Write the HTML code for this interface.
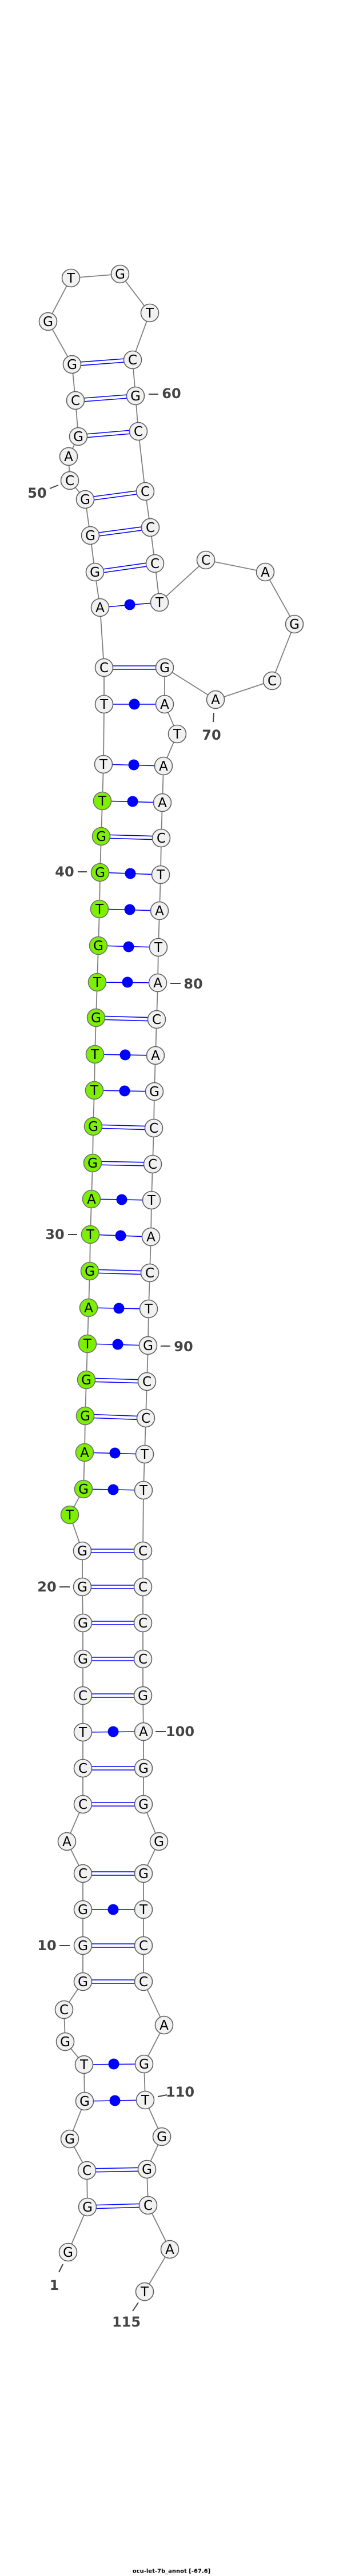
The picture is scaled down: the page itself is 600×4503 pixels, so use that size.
<!DOCTYPE html>
<html><head><meta charset="utf-8"><style>
html,body{margin:0;padding:0;background:#fff;}
svg{display:block;}
.n{fill:#f1f1f1;stroke:#606060;stroke-width:1.6;}
.g{fill:#7cf000;stroke:#707070;stroke-width:1.6;}
.t{font-family:"DejaVu Sans","Liberation Sans",sans-serif;font-size:23px;text-anchor:middle;dominant-baseline:central;fill:#000;}
.l{font-family:"DejaVu Sans","Liberation Sans",sans-serif;font-size:24px;font-weight:bold;text-anchor:middle;dominant-baseline:central;fill:#444;}
.k{stroke:#444;stroke-width:2;}
.p{stroke:#0000ff;stroke-width:1.6;}
</style></head><body>
<svg width="600" height="4503" viewBox="0 0 600 4503" xmlns="http://www.w3.org/2000/svg">
<polyline fill="none" stroke="#808080" stroke-width="1.8" points="119,3937 153,3858 152,3794 122,3739 148,3673 147,3609 114,3569 112,3513 145,3464 145,3401 145,3338 145,3275 117,3219 145,3154 145,3091 145,3028 145,2964 145,2900 145,2837 144,2774 144,2711 122,2648 146,2603 148,2539 149,2475 151,2412 153,2349 155,2286 157,2222 158,2158 160,2096 162,2033 163,1969 165,1906 166,1843 168,1779 170,1717 172,1653 174,1589 175,1525 177,1462 179,1400 181,1336 182,1231 182,1167 175,1062 166,1000 158,936 149,873 122,840 120,798 137,763 132,700 126,637 84,562 124,486 210,479 262,547 232,629 237,692 242,754 254,859 263,922 271,985 279,1053 360,979 464,1000 515,1091 476,1190 377,1223 288,1167 288,1231 310,1283 286,1339 284,1403 282,1465 281,1529 279,1592 277,1656 276,1718 274,1782 272,1845 270,1908 269,1972 267,2035 265,2098 264,2162 262,2225 260,2288 259,2352 257,2415 255,2479 253,2542 251,2605 250,2711 250,2774 250,2837 250,2900 250,2964 251,3027 251,3091 251,3154 278,3219 251,3275 251,3338 251,3401 251,3464 287,3540 252,3608 254,3671 283,3735 257,3792 259,3855 297,3932 253,4006"/>
<g class="p">
<!-- double pairs -->
<line x1="153" y1="3855" x2="259" y2="3852"/><line x1="153" y1="3861" x2="259" y2="3858"/>
<line x1="152" y1="3791" x2="257" y2="3789"/><line x1="152" y1="3797" x2="257" y2="3795"/>
<line x1="145" y1="3461" x2="251" y2="3461"/><line x1="145" y1="3467" x2="251" y2="3467"/>
<line x1="145" y1="3398" x2="251" y2="3398"/><line x1="145" y1="3404" x2="251" y2="3404"/>
<line x1="145" y1="3272" x2="251" y2="3272"/><line x1="145" y1="3278" x2="251" y2="3278"/>
<line x1="145" y1="3151" x2="251" y2="3151"/><line x1="145" y1="3157" x2="251" y2="3157"/>
<line x1="145" y1="3088" x2="251" y2="3088"/><line x1="145" y1="3094" x2="251" y2="3094"/>
<line x1="145" y1="2961" x2="250" y2="2961"/><line x1="145" y1="2967" x2="250" y2="2967"/>
<line x1="145" y1="2897" x2="250" y2="2897"/><line x1="145" y1="2903" x2="250" y2="2903"/>
<line x1="145" y1="2834" x2="250" y2="2834"/><line x1="145" y1="2840" x2="250" y2="2840"/>
<line x1="144" y1="2771" x2="250" y2="2771"/><line x1="144" y1="2777" x2="250" y2="2777"/>
<line x1="144" y1="2708" x2="250" y2="2708"/><line x1="144" y1="2714" x2="250" y2="2714"/>
<line x1="149" y1="2472" x2="255" y2="2476"/><line x1="149" y1="2478" x2="255" y2="2482"/>
<line x1="151" y1="2409" x2="257" y2="2412"/><line x1="151" y1="2415" x2="257" y2="2418"/>
<line x1="157" y1="2219" x2="262" y2="2222"/><line x1="157" y1="2225" x2="262" y2="2228"/>
<line x1="162" y1="2030" x2="267" y2="2032"/><line x1="162" y1="2036" x2="267" y2="2038"/>
<line x1="163" y1="1966" x2="269" y2="1969"/><line x1="163" y1="1972" x2="269" y2="1975"/>
<line x1="168" y1="1776" x2="274" y2="1779"/><line x1="168" y1="1782" x2="274" y2="1785"/>
<line x1="177" y1="1459" x2="282" y2="1462"/><line x1="177" y1="1465" x2="282" y2="1468"/>
<line x1="182" y1="1164" x2="288" y2="1164"/><line x1="182" y1="1170" x2="288" y2="1170"/>
<line x1="166" y1="997" x2="271" y2="982"/><line x1="166" y1="1003" x2="271" y2="988"/>
<line x1="158" y1="933" x2="263" y2="919"/><line x1="158" y1="939" x2="263" y2="925"/>
<line x1="149" y1="870" x2="254" y2="856"/><line x1="149" y1="876" x2="254" y2="862"/>
<line x1="137" y1="760" x2="242" y2="751"/><line x1="137" y1="766" x2="242" y2="757"/>
<line x1="132" y1="697" x2="237" y2="689"/><line x1="132" y1="703" x2="237" y2="695"/>
<line x1="126" y1="634" x2="232" y2="626"/><line x1="126" y1="640" x2="232" y2="632"/>
<!-- dot pairs -->
<line x1="148" y1="3673" x2="254" y2="3671"/>
<line x1="147" y1="3609" x2="252" y2="3608"/>
<line x1="145" y1="3338" x2="251" y2="3338"/>
<line x1="145" y1="3028" x2="251" y2="3027"/>
<line x1="146" y1="2603" x2="251" y2="2605"/>
<line x1="148" y1="2539" x2="253" y2="2542"/>
<line x1="153" y1="2349" x2="259" y2="2352"/>
<line x1="155" y1="2286" x2="260" y2="2288"/>
<line x1="158" y1="2158" x2="264" y2="2162"/>
<line x1="160" y1="2096" x2="265" y2="2098"/>
<line x1="165" y1="1906" x2="270" y2="1908"/>
<line x1="166" y1="1843" x2="272" y2="1845"/>
<line x1="170" y1="1717" x2="276" y2="1718"/>
<line x1="172" y1="1653" x2="277" y2="1656"/>
<line x1="174" y1="1589" x2="279" y2="1592"/>
<line x1="175" y1="1525" x2="281" y2="1529"/>
<line x1="179" y1="1400" x2="284" y2="1403"/>
<line x1="181" y1="1336" x2="286" y2="1339"/>
<line x1="182" y1="1231" x2="288" y2="1231"/>
<line x1="175" y1="1062" x2="279" y2="1053"/>
</g>
<g fill="#0000ff">
<circle cx="201" cy="3672" r="9.5"/><circle cx="199" cy="3608" r="9.5"/><circle cx="198" cy="3338" r="9.5"/><circle cx="198" cy="3027" r="9.5"/>
<circle cx="198" cy="2604" r="9.5"/><circle cx="201" cy="2540" r="9.5"/><circle cx="206" cy="2350" r="9.5"/><circle cx="208" cy="2287" r="9.5"/>
<circle cx="211" cy="2160" r="9.5"/><circle cx="213" cy="2097" r="9.5"/><circle cx="218" cy="1907" r="9.5"/><circle cx="219" cy="1844" r="9.5"/>
<circle cx="223" cy="1717" r="9.5"/><circle cx="225" cy="1655" r="9.5"/><circle cx="227" cy="1590" r="9.5"/><circle cx="228" cy="1527" r="9.5"/>
<circle cx="232" cy="1401" r="9.5"/><circle cx="234" cy="1337" r="9.5"/><circle cx="235" cy="1231" r="9.5"/><circle cx="227" cy="1057" r="9.5"/>
</g>
<g>
<circle class="n" cx="119" cy="3937" r="15.5"/><text class="t" x="119" y="3938">G</text>
<circle class="n" cx="153" cy="3858" r="15.5"/><text class="t" x="153" y="3859">G</text>
<circle class="n" cx="152" cy="3794" r="15.5"/><text class="t" x="152" y="3795">C</text>
<circle class="n" cx="122" cy="3739" r="15.5"/><text class="t" x="122" y="3740">G</text>
<circle class="n" cx="148" cy="3673" r="15.5"/><text class="t" x="148" y="3674">G</text>
<circle class="n" cx="147" cy="3609" r="15.5"/><text class="t" x="147" y="3610">T</text>
<circle class="n" cx="114" cy="3569" r="15.5"/><text class="t" x="114" y="3570">G</text>
<circle class="n" cx="112" cy="3513" r="15.5"/><text class="t" x="112" y="3514">C</text>
<circle class="n" cx="145" cy="3464" r="15.5"/><text class="t" x="145" y="3465">G</text>
<circle class="n" cx="145" cy="3401" r="15.5"/><text class="t" x="145" y="3402">G</text>
<circle class="n" cx="145" cy="3338" r="15.5"/><text class="t" x="145" y="3339">G</text>
<circle class="n" cx="145" cy="3275" r="15.5"/><text class="t" x="145" y="3276">C</text>
<circle class="n" cx="117" cy="3219" r="15.5"/><text class="t" x="117" y="3220">A</text>
<circle class="n" cx="145" cy="3154" r="15.5"/><text class="t" x="145" y="3155">C</text>
<circle class="n" cx="145" cy="3091" r="15.5"/><text class="t" x="145" y="3092">C</text>
<circle class="n" cx="145" cy="3028" r="15.5"/><text class="t" x="145" y="3029">T</text>
<circle class="n" cx="145" cy="2964" r="15.5"/><text class="t" x="145" y="2965">C</text>
<circle class="n" cx="145" cy="2900" r="15.5"/><text class="t" x="145" y="2901">G</text>
<circle class="n" cx="145" cy="2837" r="15.5"/><text class="t" x="145" y="2838">G</text>
<circle class="n" cx="144" cy="2774" r="15.5"/><text class="t" x="144" y="2775">G</text>
<circle class="n" cx="144" cy="2711" r="15.5"/><text class="t" x="144" y="2712">G</text>
<circle class="g" cx="122" cy="2648" r="15.5"/><text class="t" x="122" y="2649">T</text>
<circle class="g" cx="146" cy="2603" r="15.5"/><text class="t" x="146" y="2604">G</text>
<circle class="g" cx="148" cy="2539" r="15.5"/><text class="t" x="148" y="2540">A</text>
<circle class="g" cx="149" cy="2475" r="15.5"/><text class="t" x="149" y="2476">G</text>
<circle class="g" cx="151" cy="2412" r="15.5"/><text class="t" x="151" y="2413">G</text>
<circle class="g" cx="153" cy="2349" r="15.5"/><text class="t" x="153" y="2350">T</text>
<circle class="g" cx="155" cy="2286" r="15.5"/><text class="t" x="155" y="2287">A</text>
<circle class="g" cx="157" cy="2222" r="15.5"/><text class="t" x="157" y="2223">G</text>
<circle class="g" cx="158" cy="2158" r="15.5"/><text class="t" x="158" y="2159">T</text>
<circle class="g" cx="160" cy="2096" r="15.5"/><text class="t" x="160" y="2097">A</text>
<circle class="g" cx="162" cy="2033" r="15.5"/><text class="t" x="162" y="2034">G</text>
<circle class="g" cx="163" cy="1969" r="15.5"/><text class="t" x="163" y="1970">G</text>
<circle class="g" cx="165" cy="1906" r="15.5"/><text class="t" x="165" y="1907">T</text>
<circle class="g" cx="166" cy="1843" r="15.5"/><text class="t" x="166" y="1844">T</text>
<circle class="g" cx="168" cy="1779" r="15.5"/><text class="t" x="168" y="1780">G</text>
<circle class="g" cx="170" cy="1717" r="15.5"/><text class="t" x="170" y="1718">T</text>
<circle class="g" cx="172" cy="1653" r="15.5"/><text class="t" x="172" y="1654">G</text>
<circle class="g" cx="174" cy="1589" r="15.5"/><text class="t" x="174" y="1590">T</text>
<circle class="g" cx="175" cy="1525" r="15.5"/><text class="t" x="175" y="1526">G</text>
<circle class="g" cx="177" cy="1462" r="15.5"/><text class="t" x="177" y="1463">G</text>
<circle class="g" cx="179" cy="1400" r="15.5"/><text class="t" x="179" y="1401">T</text>
<circle class="n" cx="181" cy="1336" r="15.5"/><text class="t" x="181" y="1337">T</text>
<circle class="n" cx="182" cy="1231" r="15.5"/><text class="t" x="182" y="1232">T</text>
<circle class="n" cx="182" cy="1167" r="15.5"/><text class="t" x="182" y="1168">C</text>
<circle class="n" cx="175" cy="1062" r="15.5"/><text class="t" x="175" y="1063">A</text>
<circle class="n" cx="166" cy="1000" r="15.5"/><text class="t" x="166" y="1001">G</text>
<circle class="n" cx="158" cy="936" r="15.5"/><text class="t" x="158" y="937">G</text>
<circle class="n" cx="149" cy="873" r="15.5"/><text class="t" x="149" y="874">G</text>
<circle class="n" cx="122" cy="840" r="15.5"/><text class="t" x="122" y="841">C</text>
<circle class="n" cx="120" cy="798" r="15.5"/><text class="t" x="120" y="799">A</text>
<circle class="n" cx="137" cy="763" r="15.5"/><text class="t" x="137" y="764">G</text>
<circle class="n" cx="132" cy="700" r="15.5"/><text class="t" x="132" y="701">C</text>
<circle class="n" cx="126" cy="637" r="15.5"/><text class="t" x="126" y="638">G</text>
<circle class="n" cx="84" cy="562" r="15.5"/><text class="t" x="84" y="563">G</text>
<circle class="n" cx="124" cy="486" r="15.5"/><text class="t" x="124" y="487">T</text>
<circle class="n" cx="210" cy="479" r="15.5"/><text class="t" x="210" y="480">G</text>
<circle class="n" cx="262" cy="547" r="15.5"/><text class="t" x="262" y="548">T</text>
<circle class="n" cx="232" cy="629" r="15.5"/><text class="t" x="232" y="630">C</text>
<circle class="n" cx="237" cy="692" r="15.5"/><text class="t" x="237" y="693">G</text>
<circle class="n" cx="242" cy="754" r="15.5"/><text class="t" x="242" y="755">C</text>
<circle class="n" cx="254" cy="859" r="15.5"/><text class="t" x="254" y="860">C</text>
<circle class="n" cx="263" cy="922" r="15.5"/><text class="t" x="263" y="923">C</text>
<circle class="n" cx="271" cy="985" r="15.5"/><text class="t" x="271" y="986">C</text>
<circle class="n" cx="279" cy="1053" r="15.5"/><text class="t" x="279" y="1054">T</text>
<circle class="n" cx="360" cy="979" r="15.5"/><text class="t" x="360" y="980">C</text>
<circle class="n" cx="464" cy="1000" r="15.5"/><text class="t" x="464" y="1001">A</text>
<circle class="n" cx="515" cy="1091" r="15.5"/><text class="t" x="515" y="1092">G</text>
<circle class="n" cx="476" cy="1190" r="15.5"/><text class="t" x="476" y="1191">C</text>
<circle class="n" cx="377" cy="1223" r="15.5"/><text class="t" x="377" y="1224">A</text>
<circle class="n" cx="288" cy="1167" r="15.5"/><text class="t" x="288" y="1168">G</text>
<circle class="n" cx="288" cy="1231" r="15.5"/><text class="t" x="288" y="1232">A</text>
<circle class="n" cx="310" cy="1283" r="15.5"/><text class="t" x="310" y="1284">T</text>
<circle class="n" cx="286" cy="1339" r="15.5"/><text class="t" x="286" y="1340">A</text>
<circle class="n" cx="284" cy="1403" r="15.5"/><text class="t" x="284" y="1404">A</text>
<circle class="n" cx="282" cy="1465" r="15.5"/><text class="t" x="282" y="1466">C</text>
<circle class="n" cx="281" cy="1529" r="15.5"/><text class="t" x="281" y="1530">T</text>
<circle class="n" cx="279" cy="1592" r="15.5"/><text class="t" x="279" y="1593">A</text>
<circle class="n" cx="277" cy="1656" r="15.5"/><text class="t" x="277" y="1657">T</text>
<circle class="n" cx="276" cy="1718" r="15.5"/><text class="t" x="276" y="1719">A</text>
<circle class="n" cx="274" cy="1782" r="15.5"/><text class="t" x="274" y="1783">C</text>
<circle class="n" cx="272" cy="1845" r="15.5"/><text class="t" x="272" y="1846">A</text>
<circle class="n" cx="270" cy="1908" r="15.5"/><text class="t" x="270" y="1909">G</text>
<circle class="n" cx="269" cy="1972" r="15.5"/><text class="t" x="269" y="1973">C</text>
<circle class="n" cx="267" cy="2035" r="15.5"/><text class="t" x="267" y="2036">C</text>
<circle class="n" cx="265" cy="2098" r="15.5"/><text class="t" x="265" y="2099">T</text>
<circle class="n" cx="264" cy="2162" r="15.5"/><text class="t" x="264" y="2163">A</text>
<circle class="n" cx="262" cy="2225" r="15.5"/><text class="t" x="262" y="2226">C</text>
<circle class="n" cx="260" cy="2288" r="15.5"/><text class="t" x="260" y="2289">T</text>
<circle class="n" cx="259" cy="2352" r="15.5"/><text class="t" x="259" y="2353">G</text>
<circle class="n" cx="257" cy="2415" r="15.5"/><text class="t" x="257" y="2416">C</text>
<circle class="n" cx="255" cy="2479" r="15.5"/><text class="t" x="255" y="2480">C</text>
<circle class="n" cx="253" cy="2542" r="15.5"/><text class="t" x="253" y="2543">T</text>
<circle class="n" cx="251" cy="2605" r="15.5"/><text class="t" x="251" y="2606">T</text>
<circle class="n" cx="250" cy="2711" r="15.5"/><text class="t" x="250" y="2712">C</text>
<circle class="n" cx="250" cy="2774" r="15.5"/><text class="t" x="250" y="2775">C</text>
<circle class="n" cx="250" cy="2837" r="15.5"/><text class="t" x="250" y="2838">C</text>
<circle class="n" cx="250" cy="2900" r="15.5"/><text class="t" x="250" y="2901">C</text>
<circle class="n" cx="250" cy="2964" r="15.5"/><text class="t" x="250" y="2965">G</text>
<circle class="n" cx="251" cy="3027" r="15.5"/><text class="t" x="251" y="3028">A</text>
<circle class="n" cx="251" cy="3091" r="15.5"/><text class="t" x="251" y="3092">G</text>
<circle class="n" cx="251" cy="3154" r="15.5"/><text class="t" x="251" y="3155">G</text>
<circle class="n" cx="278" cy="3219" r="15.5"/><text class="t" x="278" y="3220">G</text>
<circle class="n" cx="251" cy="3275" r="15.5"/><text class="t" x="251" y="3276">G</text>
<circle class="n" cx="251" cy="3338" r="15.5"/><text class="t" x="251" y="3339">T</text>
<circle class="n" cx="251" cy="3401" r="15.5"/><text class="t" x="251" y="3402">C</text>
<circle class="n" cx="251" cy="3464" r="15.5"/><text class="t" x="251" y="3465">C</text>
<circle class="n" cx="287" cy="3540" r="15.5"/><text class="t" x="287" y="3541">A</text>
<circle class="n" cx="252" cy="3608" r="15.5"/><text class="t" x="252" y="3609">G</text>
<circle class="n" cx="254" cy="3671" r="15.5"/><text class="t" x="254" y="3672">T</text>
<circle class="n" cx="283" cy="3735" r="15.5"/><text class="t" x="283" y="3736">G</text>
<circle class="n" cx="257" cy="3792" r="15.5"/><text class="t" x="257" y="3793">G</text>
<circle class="n" cx="259" cy="3855" r="15.5"/><text class="t" x="259" y="3856">C</text>
<circle class="n" cx="297" cy="3932" r="15.5"/><text class="t" x="297" y="3933">A</text>
<circle class="n" cx="253" cy="4006" r="15.5"/><text class="t" x="253" y="4007">T</text>
</g>
<g>
<line class="k" x1="260" y1="689" x2="277" y2="689"/><text class="l" x="300" y="688">60</text>
<line class="k" x1="87" y1="854" x2="102" y2="848"/><text class="l" x="65" y="862">50</text>
<line class="k" x1="374" y1="1246" x2="373" y2="1262"/><text class="l" x="370" y="1285">70</text>
<line class="k" x1="136" y1="1524" x2="152" y2="1524"/><text class="l" x="113" y="1524">40</text>
<line class="k" x1="298" y1="1719" x2="316" y2="1719"/><text class="l" x="338" y="1720">80</text>
<line class="k" x1="119" y1="2158" x2="135" y2="2158"/><text class="l" x="96" y="2158">30</text>
<line class="k" x1="281" y1="2353" x2="298" y2="2353"/><text class="l" x="321" y="2354">90</text>
<line class="k" x1="104" y1="2774" x2="122" y2="2774"/><text class="l" x="82" y="2774">20</text>
<line class="k" x1="272" y1="3027" x2="290" y2="3027"/><text class="l" x="315" y="3027">100</text>
<line class="k" x1="104" y1="3401" x2="122" y2="3401"/><text class="l" x="82" y="3401">10</text>
<line class="k" x1="276" y1="3665" x2="292" y2="3662"/><text class="l" x="315" y="3657">110</text>
<line class="k" x1="110" y1="3958" x2="103" y2="3972"/><text class="l" x="95" y="3995">1</text>
<line class="k" x1="242" y1="4025" x2="232" y2="4040"/><text class="l" x="221" y="4059">115</text>
</g>
<text x="300" y="4495" style="font-family:'DejaVu Sans','Liberation Sans',sans-serif;font-size:10px;font-weight:bold;text-anchor:middle;dominant-baseline:central;fill:#000;">ocu-let-7b_annot [-67.6]</text>
</svg>
</body></html>
